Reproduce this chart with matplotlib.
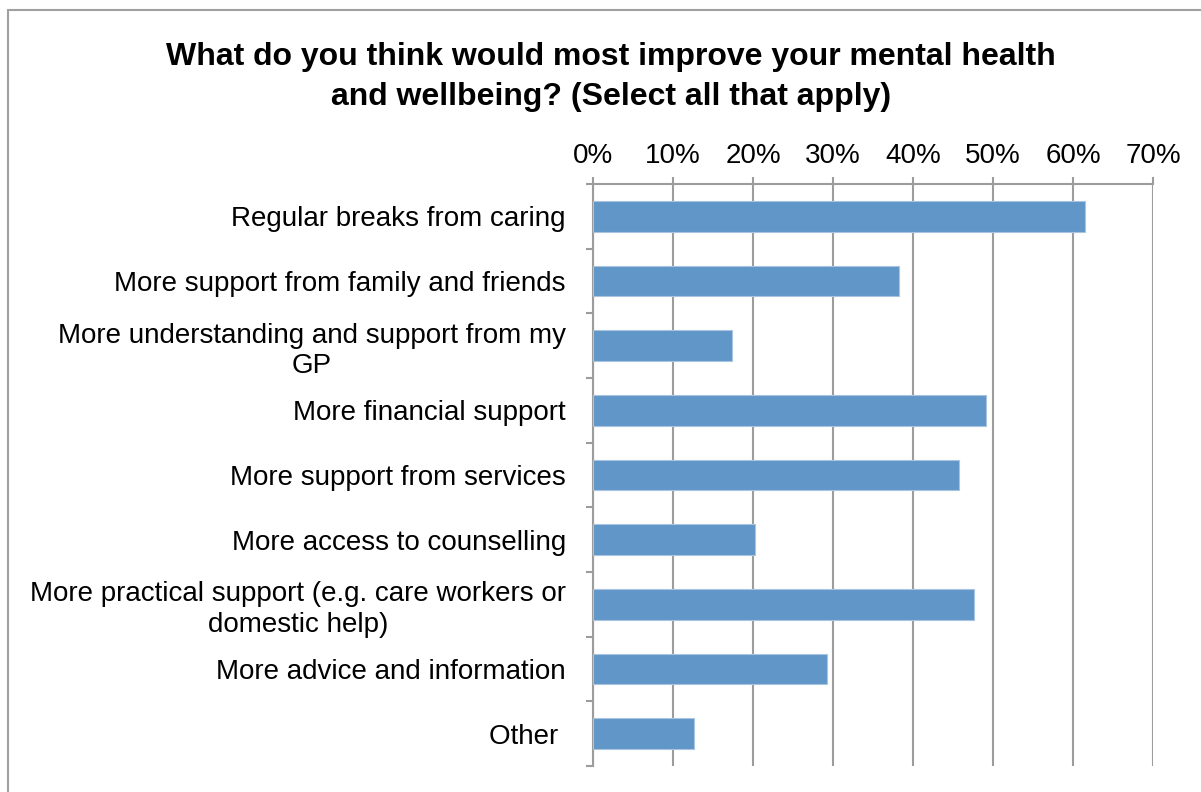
import matplotlib.pyplot as plt
from matplotlib.patches import Rectangle
from matplotlib.ticker import FixedLocator, FuncFormatter

plt.rcParams['font.family'] = ['Liberation Sans', 'DejaVu Sans']

categories = [
    'Regular breaks from caring',
    'More support from family and friends',
    'More understanding and support from my\nGP',
    'More financial support',
    'More support from services',
    'More access to counselling',
    'More practical support (e.g. care workers or\ndomestic help)',
    'More advice and information',
    'Other ',
]
values = [61.5, 38.2, 17.4, 49.1, 45.8, 20.3, 47.6, 29.3, 12.6]
xticks = [0, 10, 20, 30, 40, 50, 60, 70]

W, H = 1201, 792
fig = plt.figure(figsize=(W / 100, H / 100), dpi=100)

# outer chart frame
fig.patches.append(Rectangle((8 / W, -0.05), 1.2, 1 - 10 / H + 0.05,
                             transform=fig.transFigure, fill=False,
                             edgecolor='#a0a0a0', linewidth=1.5))

ax = fig.add_axes([593 / W, 1 - 766 / H, (1153 - 593) / W, (766 - 184) / H])

grey = '#9c9c9c'
n = len(categories)
ypos = list(range(n))
ax.barh(ypos, values, height=0.476, color='#6096c8',
        edgecolor='#a9c4e0', linewidth=0.8, zorder=3)

ax.set_xlim(0, 70)
ax.set_ylim(n - 0.5, -0.5)

ax.xaxis.set_major_locator(FixedLocator(xticks))
ax.xaxis.set_major_formatter(FuncFormatter(lambda v, p: f'{v:.0f}%'))
ax.xaxis.tick_top()
ax.tick_params(axis='x', which='major', direction='out', length=5,
               width=1.5, color=grey, labelsize=20, pad=6)
ax.grid(axis='x', color=grey, linewidth=1.5, zorder=0)

# category boundaries get tick marks, labels sit between them
ax.yaxis.set_major_locator(FixedLocator([i - 0.5 for i in range(n + 1)]))
ax.yaxis.set_major_formatter(FuncFormatter(lambda v, p: ''))
ax.yaxis.set_minor_locator(FixedLocator(ypos))
ax.set_yticklabels(categories, minor=True)
ax.tick_params(axis='y', which='major', direction='out', length=5,
               width=1.5, color=grey)
ax.tick_params(axis='y', which='minor', length=0, labelsize=20, pad=19.5)
for lbl in ax.get_yticklabels(minor=True):
    lbl.set_horizontalalignment('right')
    lbl.set_multialignment('center')
    lbl.set_linespacing(1.22)

for side in ['bottom', 'right']:
    ax.spines[side].set_visible(False)
for side in ['top', 'left']:
    ax.spines[side].set_color(grey)
    ax.spines[side].set_linewidth(1.5)

fig.text(611 / W, 1 - 77 / H,
         'What do you think would most improve your mental health\n'
         'and wellbeing? (Select all that apply)',
         ha='center', va='center', fontsize=23, fontweight='bold',
         linespacing=1.45)

fig.savefig('out.png', dpi=100)
